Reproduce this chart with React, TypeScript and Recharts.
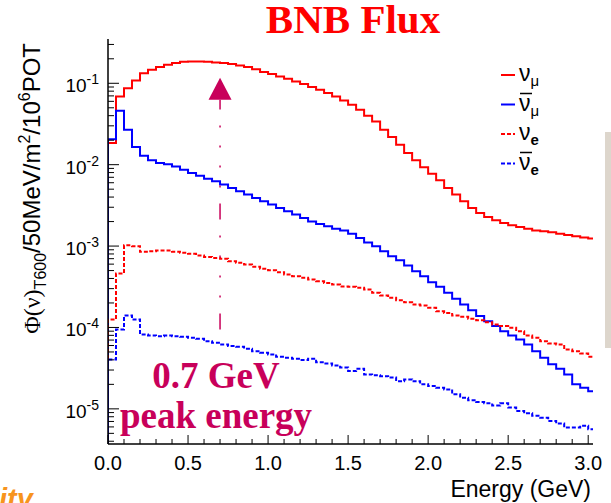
import { LineChart, Line, XAxis, YAxis, Legend, ReferenceLine, ReferenceDot } from "recharts";

const SANS = "'Liberation Sans', Arial, sans-serif";
const SERIF = "'Liberation Serif', 'Times New Roman', serif";
const ACCENT = "#c8005a";

// histogram binning (GeV)
const BIN_WIDTH = 0.05;
const N_BINS = 61;
const binEdges = Array.from({ length: N_BINS }, (_, i) => +(i * BIN_WIDTH).toFixed(2));

// flux per bin, /50MeV/m^2/10^6 POT
const numu = [
  1.85e-2, 6.9e-2, 8.7e-2, 0.108, 0.133, 0.147, 0.158, 0.169, 0.177, 0.184,
  0.185, 0.185, 0.184, 0.18, 0.177, 0.172, 0.165, 0.158, 0.149, 0.138,
  0.13, 0.121, 0.114, 0.105, 9.77e-2, 8.98e-2, 8.32e-2, 7.57e-2, 6.89e-2, 6.15e-2,
  5.45e-2, 4.73e-2, 3.99e-2, 3.4e-2, 2.69e-2, 2.19e-2, 1.76e-2, 1.39e-2, 1.13e-2, 9.27e-3,
  7.76e-3, 6.42e-3, 5.18e-3, 4.29e-3, 3.55e-3, 2.94e-3, 2.55e-3, 2.28e-3, 2.07e-3, 1.92e-3,
  1.8e-3, 1.72e-3, 1.63e-3, 1.55e-3, 1.52e-3, 1.48e-3, 1.42e-3, 1.37e-3, 1.32e-3, 1.27e-3, 1.24e-3,
];
const numubar = [
  2.06e-2, 4.6e-2, 2.69e-2, 1.65e-2, 1.29e-2, 1.135e-2, 1.05e-2, 1.01e-2, 9.53e-3, 8.69e-3,
  7.91e-3, 7.33e-3, 6.73e-3, 6.24e-3, 5.69e-3, 5.18e-3, 4.7e-3, 4.29e-3, 3.9e-3, 3.55e-3,
  3.23e-3, 2.94e-3, 2.67e-3, 2.44e-3, 2.22e-3, 2.01e-3, 1.87e-3, 1.75e-3, 1.63e-3, 1.55e-3,
  1.42e-3, 1.26e-3, 1.11e-3, 9.95e-4, 8.63e-4, 7.5e-4, 6.7e-4, 5.77e-4, 4.91e-4, 4.26e-4,
  3.6e-4, 3.16e-4, 2.67e-4, 2.25e-4, 1.91e-4, 1.63e-4, 1.38e-4, 1.19e-4, 1.04e-4, 9.01e-5,
  7.98e-5, 7.13e-5, 6.18e-5, 5.12e-5, 4.25e-5, 3.52e-5, 3.11e-5, 2.65e-5, 2.0e-5, 1.82e-5, 1.65e-5,
];
const nue = [
  1.25e-4, 4.6e-4, 1.02e-3, 9.95e-4, 8.49e-4, 8.63e-4, 8.81e-4, 8.81e-4, 8.49e-4, 8.26e-4,
  8.02e-4, 7.64e-4, 7.36e-4, 7.16e-4, 6.97e-4, 6.5e-4, 6.22e-4, 5.93e-4, 5.56e-4, 5.25e-4,
  5.05e-4, 4.78e-4, 4.47e-4, 4.27e-4, 4.07e-4, 3.88e-4, 3.7e-4, 3.53e-4, 3.37e-4, 3.18e-4,
  3.16e-4, 3.07e-4, 2.92e-4, 2.67e-4, 2.47e-4, 2.31e-4, 2.16e-4, 2.04e-4, 1.91e-4, 1.86e-4,
  1.75e-4, 1.58e-4, 1.51e-4, 1.4e-4, 1.35e-4, 1.28e-4, 1.23e-4, 1.16e-4, 1.09e-4, 1.04e-4,
  9.91e-5, 9.01e-5, 7.98e-5, 7.48e-5, 6.79e-5, 6.37e-5, 6.18e-5, 5.37e-5, 5.12e-5, 4.8e-5, 4.37e-5,
];
const nuebar = [
  4.05e-5, 9.44e-5, 1.4e-4, 1.25e-4, 8.2e-5, 7.98e-5, 7.82e-5, 7.98e-5, 7.82e-5, 7.69e-5,
  7.48e-5, 7.26e-5, 6.79e-5, 6.49e-5, 6.18e-5, 5.9e-5, 5.79e-5, 5.48e-5, 5.12e-5, 4.9e-5,
  4.67e-5, 4.37e-5, 4.25e-5, 4.13e-5, 3.97e-5, 4.13e-5, 3.75e-5, 3.61e-5, 3.42e-5, 3.23e-5,
  2.91e-5, 3.11e-5, 2.65e-5, 2.58e-5, 2.52e-5, 2.42e-5, 2.19e-5, 2.3e-5, 2.19e-5, 2.0e-5,
  1.91e-5, 1.82e-5, 1.73e-5, 1.51e-5, 1.37e-5, 1.28e-5, 1.21e-5, 1.17e-5, 1.1e-5, 1.17e-5,
  1.04e-5, 9.4e-6, 8.8e-6, 8.2e-6, 7.8e-6, 7.1e-6, 6.6e-6, 5.9e-6, 5.9e-6, 6.2e-6, 5.6e-6,
];

// axis ranges and ticks
const X_MAX = 3.03;
const Y_DOMAIN: [number, number] = [3.7e-6, 0.35];
const decades = [1e-6, 1e-5, 1e-4, 1e-3, 1e-2, 1e-1];
const xTicks = Array.from({ length: 31 }, (_, i) => +(i / 10).toFixed(1));

// peak marker at 0.7 GeV
const PEAK_E = 0.7;
const ARROW_TOP = 6.27e-2;
const ARROW_BOTTOM = 9.45e-5;

// histograms start from the floor at E = 0 and close at the last bin edge
const FLOOR = 1e-8;
const rows = [
  { e: 0, numu: FLOOR, numubar: FLOOR, nue: FLOOR, nuebar: FLOOR },
  ...binEdges.map((e, i) => ({ e, numu: numu[i], numubar: numubar[i], nue: nue[i], nuebar: nuebar[i] })),
  {
    e: +(N_BINS * BIN_WIDTH).toFixed(2),
    numu: numu[N_BINS - 1],
    numubar: numubar[N_BINS - 1],
    nue: nue[N_BINS - 1],
    nuebar: nuebar[N_BINS - 1],
  },
];

const yTicks = decades
  .flatMap((d) => [1, 2, 3, 4, 5, 6, 7, 8, 9].map((m) => d * m))
  .filter((v) => v >= Y_DOMAIN[0] && v <= Y_DOMAIN[1]);

const series = [
  { key: "numu", color: "#ff0000", dash: undefined, bar: false, sub: "μ", bold: false },
  { key: "numubar", color: "#0000ff", dash: undefined, bar: true, sub: "μ", bold: false },
  { key: "nue", color: "#ff0000", dash: "4 2", bar: false, sub: "e", bold: true },
  { key: "nuebar", color: "#0000ff", dash: "4 2", bar: true, sub: "e", bold: true },
];

const isDecade = (v: number) => Math.abs(Math.log10(v) - Math.round(Math.log10(v))) < 1e-6;
const isHalf = (v: number) => Math.abs(v * 2 - Math.round(v * 2)) < 1e-6;

function BottomTick({ x, y, payload }: any) {
  const major = isHalf(payload.value);
  return (
    <g>
      <line x1={x} x2={x} y1={y} y2={y - (major ? 9 : 5)} stroke="#000" strokeWidth={1} />
      {major && (
        <text x={x} y={y + 26} textAnchor="middle" fontSize={20} fontFamily={SANS} fill="#000">
          {payload.value.toFixed(1)}
        </text>
      )}
    </g>
  );
}

function TopTick({ x, y, payload }: any) {
  const major = isHalf(payload.value);
  return <line x1={x} x2={x} y1={y} y2={y + (major ? 9 : 5)} stroke="#000" strokeWidth={1} />;
}

function LeftTick({ x, y, payload }: any) {
  const v = payload.value;
  const major = isDecade(v);
  return (
    <g>
      <line x1={x} x2={x + (major ? 11 : 6)} y1={y} y2={y} stroke="#000" strokeWidth={1} />
      {major && (
        <text x={x - 9} y={y + 9} textAnchor="end" fontSize={19} fontFamily={SANS} fill="#000">
          10
          <tspan dy={-8} fontSize={14}>
            {Math.round(Math.log10(v))}
          </tspan>
        </text>
      )}
    </g>
  );
}

function RightTick({ x, y, payload }: any) {
  const major = isDecade(payload.value);
  return <line x1={x} x2={x - (major ? 11 : 6)} y1={y} y2={y} stroke="#000" strokeWidth={1} />;
}

function FluxLegend() {
  return (
    <svg width={70} height={120} style={{ display: "block", overflow: "visible" }}>
      {series.map((s, i) => {
        const cy = 17 + i * 29.5;
        return (
          <g key={s.key}>
            <line x1={5} x2={19} y1={cy} y2={cy} stroke={s.color} strokeWidth={2} strokeDasharray={s.dash} />
            {s.bar && <line x1={24} x2={36} y1={cy - 11} y2={cy - 11} stroke="#000" strokeWidth={1.5} />}
            <text x={23} y={cy + 6} fontSize={23} fontFamily={SANS} fill="#000">
              ν
              <tspan dy={5} fontSize={15} fontWeight={s.bold ? "bold" : "normal"}>
                {s.sub}
              </tspan>
            </text>
          </g>
        );
      })}
    </svg>
  );
}

function Triangle({ cx, cy }: any) {
  return <polygon points={`${cx - 11.5},${cy} ${cx + 11.5},${cy} ${cx},${cy - 22}`} fill={ACCENT} />;
}

export default function App() {
  return (
    <div style={{ position: "absolute", left: 0, top: 0, width: 611, height: 503, background: "#fff" }}>
      <LineChart width={611} height={503} data={rows} margin={{ top: 39, right: 18, bottom: 29, left: 48 }}>
        <XAxis
          xAxisId="b"
          dataKey="e"
          type="number"
          domain={[0, X_MAX]}
          allowDataOverflow
          ticks={xTicks}
          interval={0}
          height={30}
          tickSize={0}
          tickMargin={0}
          tick={<BottomTick />}
          axisLine={{ stroke: "#000", strokeWidth: 1.5 }}
        />
        <XAxis
          xAxisId="t"
          orientation="top"
          dataKey="e"
          type="number"
          domain={[0, X_MAX]}
          allowDataOverflow
          ticks={xTicks}
          interval={0}
          height={0}
          tickSize={0}
          tickMargin={0}
          tick={<TopTick />}
          axisLine={{ stroke: "#000", strokeWidth: 1.5 }}
        />
        <YAxis
          yAxisId="l"
          scale="log"
          type="number"
          domain={Y_DOMAIN}
          allowDataOverflow
          ticks={yTicks}
          interval={0}
          width={60}
          tickSize={0}
          tickMargin={0}
          tick={<LeftTick />}
          axisLine={{ stroke: "#000", strokeWidth: 1.5 }}
        />
        <YAxis
          yAxisId="r"
          orientation="right"
          scale="log"
          type="number"
          domain={Y_DOMAIN}
          allowDataOverflow
          ticks={yTicks}
          interval={0}
          width={0}
          tickSize={0}
          tickMargin={0}
          tick={<RightTick />}
          axisLine={{ stroke: "#000", strokeWidth: 1.5 }}
        />
        <Legend
          layout="horizontal"
          verticalAlign="middle"
          content={<FluxLegend />}
          wrapperStyle={{ left: 496, top: 58, width: 70, height: 120 }}
        />
        {series.map((s) => (
          <Line
            key={s.key}
            xAxisId="b"
            yAxisId="l"
            dataKey={s.key}
            type="stepAfter"
            stroke={s.color}
            strokeWidth={2}
            strokeDasharray={s.dash}
            dot={false}
            activeDot={false}
            isAnimationActive={false}
          />
        ))}
        <ReferenceLine
          xAxisId="b"
          yAxisId="l"
          segment={[
            { x: PEAK_E, y: ARROW_BOTTOM },
            { x: PEAK_E, y: ARROW_TOP },
          ]}
          stroke={ACCENT}
          strokeWidth={1.5}
          strokeDasharray="16 16 2 18 2 18 2 18 2 16"
        />
        <ReferenceDot xAxisId="b" yAxisId="l" x={PEAK_E} y={ARROW_TOP} shape={<Triangle />} />
      </LineChart>

      <svg
        width={611}
        height={503}
        style={{ position: "absolute", left: 0, top: 0, pointerEvents: "none", overflow: "hidden" }}
      >
        <text x={353} y={33} textAnchor="middle" fontSize={41} fontWeight="bold" fontFamily={SERIF} fill="#ff0000">
          BNB Flux
        </text>
        <text transform="translate(40,43) rotate(-90)" textAnchor="end" fontSize={24} fontFamily={SANS} fill="#000">
          <tspan fontFamily={SERIF}>Φ(ν)</tspan>
          <tspan dy={6} fontSize={16}>T600</tspan>
          <tspan dy={-6}>/50MeV/m</tspan>
          <tspan dy={-10} fontSize={16}>2</tspan>
          <tspan dy={10}>/10</tspan>
          <tspan dy={-10} fontSize={16}>6</tspan>
          <tspan dy={10}>POT</tspan>
        </text>
        <text x={591} y={497} textAnchor="end" fontSize={23} fontFamily={SANS} fill="#000">
          Energy (GeV)
        </text>
        <text x={216} y={388} textAnchor="middle" fontSize={37} fontWeight="bold" fontFamily={SERIF} fill={ACCENT}>
          0.7 GeV
        </text>
        <text x={216} y={428} textAnchor="middle" fontSize={37} fontWeight="bold" fontFamily={SERIF} fill={ACCENT}>
          peak energy
        </text>
        <text x={-1} y={509} fontSize={29} fontWeight="bold" fontStyle="italic" fontFamily={SANS} fill="#f7941d">
          ity
        </text>
        <rect x={605} y={132} width={6} height={216} fill="#ddd6cc" />
      </svg>
    </div>
  );
}
